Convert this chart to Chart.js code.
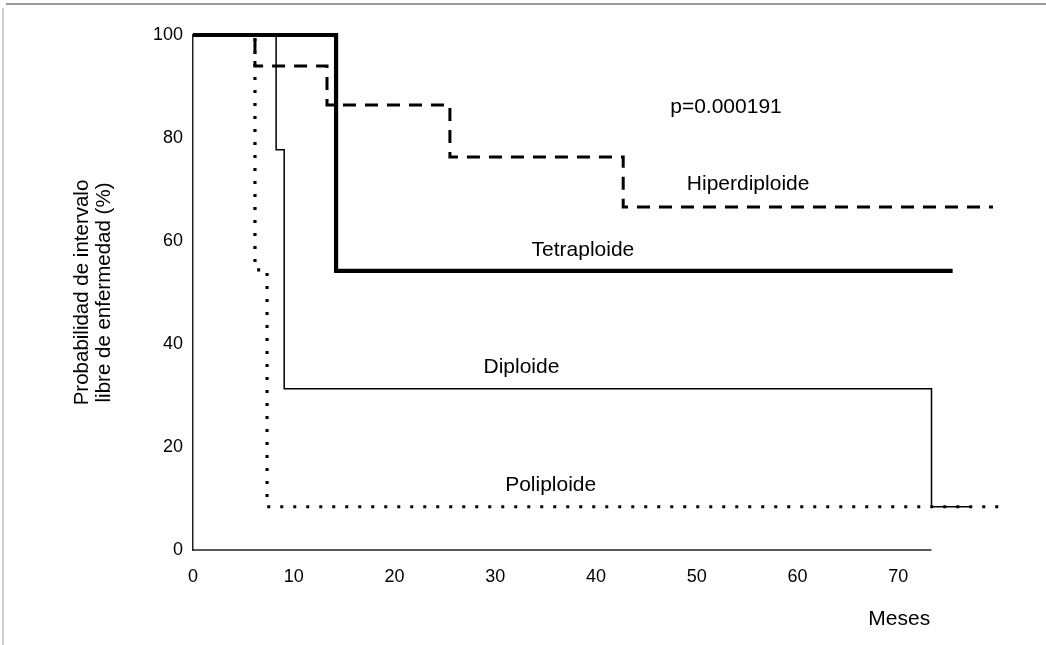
<!DOCTYPE html>
<html><head><meta charset="utf-8">
<script src="https://cdn.jsdelivr.net/npm/chart.js@4.4.1/dist/chart.umd.min.js"></script>
<style>html,body{margin:0;padding:0;background:#fff;} #wrap{width:1046px;height:645px;position:relative;}</style>
</head><body><div id="wrap"><canvas id="c" width="1046" height="645"></canvas></div>
<script>
// Kaplan-Meier step data (months, % disease-free)
const tetraX = [0, 14.2, 75.4];
const tetraY = [100, 54.2, 54.2];
const hiperX = [0, 6.15, 13.3, 25.5, 42.7, 79.4];
const hiperY = [100, 94.0, 86.4, 76.3, 66.6, 66.6];
const diploX = [0, 8.25, 9.05, 73.3, 77.2];
const diploY = [100, 77.7, 31.3, 8.4, 8.4];
const poliX = [0, 6.15, 7.35, 80.1];
const poliY = [100, 54.4, 8.4, 8.4];
const xTicks = [0, 10, 20, 30, 40, 50, 60, 70];
const yTicks = [0, 20, 40, 60, 80, 100];
const xAxisEnd = 73.3;
const yTitle = ['Probabilidad de intervalo', 'libre de enfermedad (%)'];
const xTitle = 'Meses';
const notes = [
  {text: 'p=0.000191', x: 52.9, y: 86.0},
  {text: 'Hiperdiploide', x: 55.1, y: 71.1},
  {text: 'Tetraploide', x: 38.7, y: 58.3},
  {text: 'Diploide', x: 32.6, y: 35.5},
  {text: 'Poliploide', x: 35.5, y: 12.6},
  {text: xTitle, x: 70.1, y: -13.4}
];

const FONT = '"Liberation Sans", Arial, Helvetica, sans-serif';
const pts = (xs, ys) => xs.map((v, i) => ({x: v, y: ys[i]}));

const notePlugin = {
  id: 'notes',
  beforeDraw(chart) {
    const ctx = chart.ctx;
    ctx.save();
    ctx.strokeStyle = '#777'; ctx.lineWidth = 1.5;
    ctx.beginPath(); ctx.moveTo(6, 4); ctx.lineTo(1046, 4); ctx.stroke();
    ctx.strokeStyle = '#999'; ctx.lineWidth = 1;
    ctx.beginPath(); ctx.moveTo(3, 8); ctx.lineTo(3, 645); ctx.stroke();
    ctx.restore();
  },
  afterDatasetsDraw(chart) {
    const {ctx, scales: {x, y}} = chart;
    ctx.save();
    ctx.strokeStyle = '#222'; ctx.lineWidth = 1.5;
    ctx.beginPath();
    ctx.moveTo(x.getPixelForValue(0), y.getPixelForValue(0));
    ctx.lineTo(x.getPixelForValue(xAxisEnd), y.getPixelForValue(0));
    ctx.stroke();
    ctx.font = '21px ' + FONT;
    ctx.fillStyle = '#000'; ctx.textAlign = 'center'; ctx.textBaseline = 'middle';
    notes.forEach(n => ctx.fillText(n.text, x.getPixelForValue(n.x), y.getPixelForValue(n.y)));
    ctx.restore();
  }
};

const common = {pointRadius: 0, fill: false, stepped: 'before', borderColor: '#000', borderCapStyle: 'butt', borderJoinStyle: 'miter', clip: false, tension: 0};

new Chart(document.getElementById('c'), {
  type: 'line',
  data: {
    datasets: [
      Object.assign({label: 'Tetraploide', data: pts(tetraX, tetraY), borderWidth: 4.2}, common),
      Object.assign({label: 'Hiperdiploide', data: pts(hiperX, hiperY), borderWidth: 3, borderDash: [13, 9]}, common),
      Object.assign({label: 'Diploide', data: pts(diploX, diploY), borderWidth: 1.5}, common),
      Object.assign({label: 'Poliploide', data: pts(poliX, poliY), borderWidth: 3.2, borderDash: [3, 10]}, common)
    ]
  },
  options: {
    responsive: false,
    animation: false,
    events: [],
    layout: {padding: {top: 35, right: 47, bottom: 0, left: 0}},
    plugins: {legend: {display: false}, tooltip: {enabled: false}},
    scales: {
      x: {
        type: 'linear', min: 0, max: 80,
        grid: {display: false, drawTicks: false},
        border: {display: false},
        afterBuildTicks: s => { s.ticks = xTicks.map(v => ({value: v})); },
        afterFit: s => { s.height = 95; },
        ticks: {font: {family: FONT, size: 18}, color: '#000', padding: 16, maxRotation: 0, autoSkip: false}
      },
      y: {
        type: 'linear', min: 0, max: 100,
        grid: {display: false, drawTicks: false},
        border: {display: true, color: '#222', width: 1.5},
        afterBuildTicks: s => { s.ticks = yTicks.map(v => ({value: v})); },
        afterFit: s => { s.width = 193; },
        ticks: {font: {family: FONT, size: 18}, color: '#000', padding: 10},
        title: {display: true, text: yTitle, color: '#000', font: {family: FONT, size: 20.5, lineHeight: 1.1}, padding: {top: 71, bottom: 0}}
      }
    }
  },
  plugins: [notePlugin]
});
</script>
</body></html>
